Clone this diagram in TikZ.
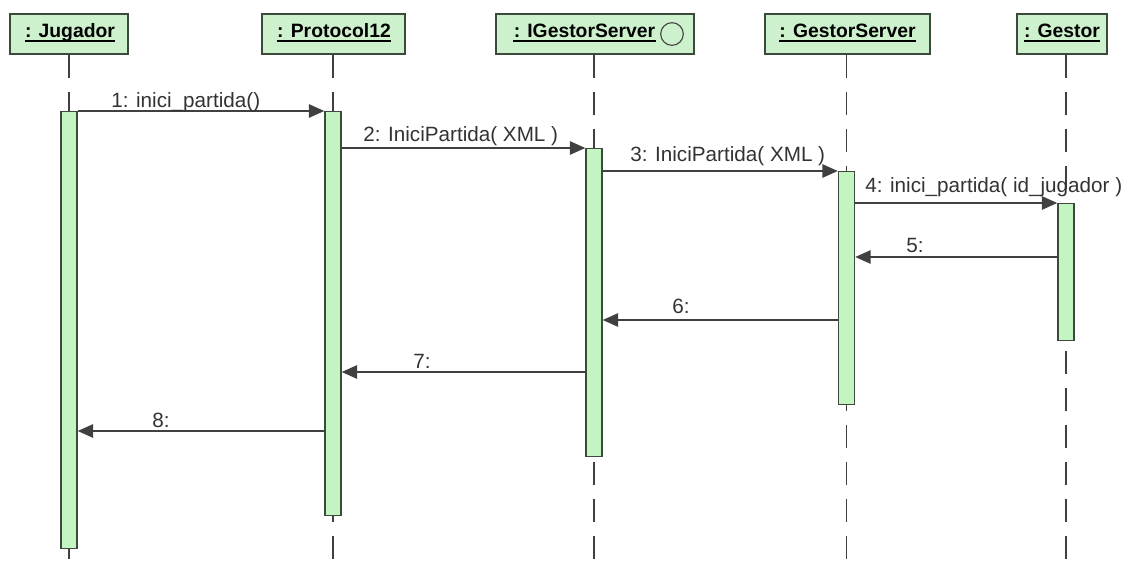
\documentclass[tikz,border=0pt]{standalone}
\usepackage{fontspec}
\setmainfont{Liberation Sans}
\usetikzlibrary{arrows.meta,backgrounds}
\definecolor{linegray}{HTML}{404040}
\definecolor{edgegreen}{HTML}{3C4A3C}
\definecolor{barfill}{HTML}{C3F5C3}
\definecolor{headfill}{HTML}{CDF0CD}
\definecolor{labelgray}{HTML}{333333}

\begin{document}
\begin{tikzpicture}[x=0.75pt,y=-0.75pt,
  header/.style={draw=edgegreen, fill=headfill, line width=1.1pt, rectangle, inner sep=0pt, minimum height=30pt},
  headtext/.style={font=\bfseries\fontsize{14.5}{16}\selectfont, text=black, inner sep=0pt, anchor=base},
  headline/.style={draw=black, line width=1.1pt},
  actbar/.style={draw=edgegreen, fill=barfill, line width=1.1pt, rectangle, inner sep=0pt, minimum width=12pt, anchor=north},
  lifeline/.style={draw=linegray, line width=1.1pt, dash pattern=on 17.25pt off 10.5pt},
  msg/.style={draw=linegray, line width=1.2pt, -{Triangle[length=11.5pt,width=10pt]}},
  msglabel/.style={font=\fontsize{15.5}{17}\selectfont, text=labelgray, inner sep=0pt, anchor=base west}
]
\useasboundingbox (0,0) rectangle (1128,567);
\coordinate (bottom) at (0,567);

% object headers
\node[header, minimum width=88.5pt]  (hJ)  at (69,34)    {};
\node[header, minimum width=107.25pt] (hP) at (333.5,34) {};
\node[header, minimum width=148.5pt] (hI)  at (595,34)   {};
\node[header, minimum width=123.75pt] (hGS) at (847.5,34) {};
\node[header, minimum width=67.5pt]  (hG)  at (1062,34)  {};

\node[headtext] (tJ)  at (70,38)    {: Jugador};
\node[headtext] (tP)  at (334,38)   {: Protocol12};
\node[headtext] (tI)  at (584.5,38) {: IGestorServer};
\node[headtext] (tGS) at (847.5,38) {: GestorServer};
\node[headtext] (tG)  at (1062,38)  {: Gestor};
\foreach \t in {tJ,tP,tI,tGS,tG}
  \draw[headline] ([yshift=-2.25pt]\t.base west) -- ([yshift=-2.25pt]\t.base east);

% interface symbol
\node[draw=linegray, line width=0.8pt, circle, minimum size=17pt, inner sep=0pt] (iface) at (672,34) {};

% activation bars
\node[actbar, minimum height=327.75pt] (bJ)  at (69,111)    {};
\node[actbar, minimum height=303pt]    (bP)  at (333,111)   {};
\node[actbar, minimum height=231pt]    (bI)  at (594,148)   {};
\node[actbar, minimum height=174.75pt] (bGS) at (846.5,171) {};
\node[actbar, minimum height=102.75pt] (bG)  at (1066,203)  {};

% lifelines behind the bars
\begin{scope}[on background layer]
  \fill[white] (0,0) rectangle (1128,567);
  \foreach \b/\h in {bJ/hJ,bP/hP,bI/hI,bGS/hGS,bG/hG}
    \draw[lifeline] (\b.north |- \h.south) -- (\b.north |- bottom);
\end{scope}

% message rows
\coordinate (y5) at (0,257);
\coordinate (y6) at (0,320);
\coordinate (y7) at (0,372);
\coordinate (y8) at (0,431);

% messages
\draw[msg] (bJ.north east) -- (bP.north west);
\draw[msg] (bP.east |- bI.north) -- (bI.north west);
\draw[msg] (bI.east |- bGS.north) -- (bGS.north west);
\draw[msg] (bGS.east |- bG.north) -- (bG.north west);
\draw[msg] (bG.west |- y5) -- (bGS.east |- y5);
\draw[msg] (bGS.west |- y6) -- (bI.east |- y6);
\draw[msg] (bI.west |- y7) -- (bP.east |- y7);
\draw[msg] (bP.west |- y8) -- (bJ.east |- y8);

% message labels
\node[msglabel] (m1) at (111,108) {1: inici\_partida()};
\node[msglabel] (m2) at (363,142) {2: IniciPartida( XML )};
\node[msglabel] (m3) at (630,161) {3: IniciPartida( XML )};
\node[msglabel] (m4) at (865,192) {4: inici\_partida( id\_jugador )};
\node[msglabel] (m5) at (906,252) {5:};
\node[msglabel] (m6) at (672,313) {6:};
\node[msglabel] (m7) at (413,368) {7:};
\node[msglabel] (m8) at (152,427) {8:};
\end{tikzpicture}
\end{document}
